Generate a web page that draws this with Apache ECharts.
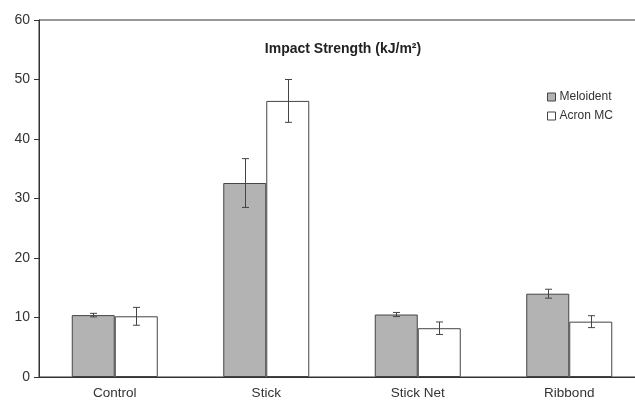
<!DOCTYPE html>
<html>
<head>
<meta charset="utf-8">
<script src="https://cdn.jsdelivr.net/npm/echarts@6/dist/echarts.min.js"></script>
<style>
  html, body { margin: 0; padding: 0; background: #fff; overflow: hidden; }
  #chart { width: 645px; height: 401px; }
</style>
</head>
<body>
<div id="chart"></div>
<script>
// 抗冲击强度 柱状图 + 误差线
var categories = ['Control', 'Stick', 'Stick Net', 'Ribbond'];
var meloident = [10.4, 32.6, 10.5, 14.0];
var meloidentErr = [0.3, 4.1, 0.35, 0.75];
var acron = [10.2, 46.4, 8.2, 9.3];
var acronErr = [1.5, 3.6, 1.05, 1.0];

var BAR_W = 43;

function errorSeries(name, values, errs, offset) {
    var data = values.map(function (v, i) { return [i, v - errs[i], v + errs[i]]; });
    return {
        name: name + ' err',
        type: 'custom',
        z: 10,
        silent: true,
        data: data,
        renderItem: function (params, api) {
            var i = api.value(0);
            var lo = api.coord([i, api.value(1)]);
            var hi = api.coord([i, api.value(2)]);
            var x = Math.round(lo[0] + offset) + 0.5;
            var cap = 3.5;
            var style = { stroke: '#444', lineWidth: 1 };
            return {
                type: 'group',
                children: [
                    { type: 'line', shape: { x1: x, y1: hi[1], x2: x, y2: lo[1] }, style: style },
                    { type: 'line', shape: { x1: x - cap, y1: hi[1], x2: x + cap, y2: hi[1] }, style: style },
                    { type: 'line', shape: { x1: x - cap, y1: lo[1], x2: x + cap, y2: lo[1] }, style: style }
                ]
            };
        }
    };
}

var chart = echarts.init(document.getElementById('chart'));

var option = {
    animation: false,
    textStyle: { fontFamily: 'Liberation Sans, Arial, sans-serif' },
    title: {
        text: 'Impact Strength (kJ/m²)',
        left: 338,
        textAlign: 'center',
        top: 37,
        textStyle: { fontSize: 14, fontWeight: 'bold', color: '#222' }
    },
    legend: {
        orient: 'vertical',
        left: 542,
        top: 86,
        itemWidth: 8,
        itemHeight: 8,
        itemGap: 7,
        icon: 'rect',
        textStyle: { fontSize: 12, color: '#333', padding: [0, 0, 0, -1] },
        data: [
            { name: 'Meloident', itemStyle: { color: '#b3b3b3', borderColor: '#444', borderWidth: 1 } },
            { name: 'Acron MC', itemStyle: { color: '#fff', borderColor: '#444', borderWidth: 1 } }
        ]
    },
    grid: {
        left: 39,
        right: 0,
        top: 20,
        bottom: 24,
        show: true,
        borderColor: '#333',
        borderWidth: 1,
        backgroundColor: 'transparent'
    },
    xAxis: {
        type: 'category',
        data: categories,
        axisLine: { lineStyle: { color: '#333' } },
        axisTick: { length: 3, lineStyle: { color: '#333' } },
        axisLabel: { fontSize: 13.5, color: '#333', margin: 9 }
    },
    yAxis: {
        type: 'value',
        min: 0,
        max: 60,
        interval: 10,
        splitLine: { show: false },
        axisLine: { show: true, lineStyle: { color: '#333' } },
        axisTick: { show: true, length: 5, lineStyle: { color: '#333' } },
        axisLabel: { fontSize: 14, color: '#333', margin: 9 }
    },
    series: [
        {
            name: 'Meloident',
            type: 'bar',
            data: meloident,
            barWidth: BAR_W,
            barGap: '0%',
            itemStyle: { color: '#b3b3b3', borderColor: '#444', borderWidth: 1 }
        },
        {
            name: 'Acron MC',
            type: 'bar',
            data: acron,
            barWidth: BAR_W,
            barGap: '0%',
            itemStyle: { color: '#fff', borderColor: '#444', borderWidth: 1 }
        },
        errorSeries('Meloident', meloident, meloidentErr, -BAR_W / 2),
        errorSeries('Acron MC', acron, acronErr, BAR_W / 2)
    ]
};

chart.setOption(option);
</script>
</body>
</html>
